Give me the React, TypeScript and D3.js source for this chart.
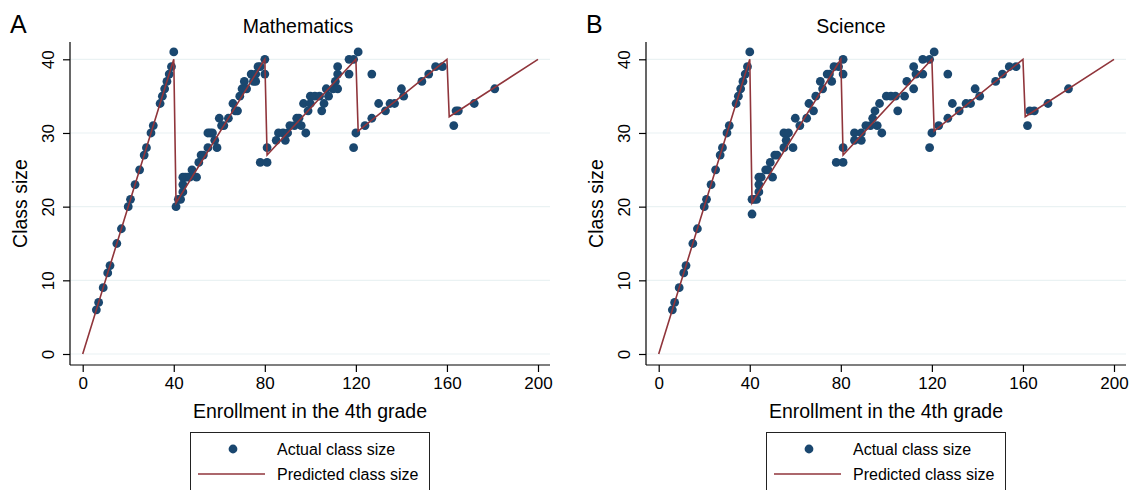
import { axisBottom, axisLeft, line, scaleLinear, select } from 'd3'
import React, { useEffect, useRef } from 'react'

// tick values
const xTicks = [0, 40, 80, 120, 160, 200]
const yTicks = [0, 10, 20, 30, 40]

// predicted class size (Maimonides-style rule, cap of 40)
const predictedEnrollment = [0, 40, 41, 80, 81, 120, 121, 160, 161, 200]
const predictedClassSize = [0, 40, 20.5, 40, 27, 40, 30.25, 40, 32.2, 40]

// Panel A - Mathematics
const mathEnrollment = [
  6, 7, 9, 11, 12, 15, 17, 20, 21, 23, 25, 27, 28, 30, 31, 34, 35, 36, 37, 38, 39, 40,
  41, 42, 43, 44, 44, 44, 45, 46, 47, 48, 50, 51, 52, 53, 55, 55, 56, 57, 58, 59, 60, 61, 62, 64,
  66, 67, 68, 69, 70, 71, 72, 74, 75, 76, 76, 77, 78, 80, 80, 78, 81, 81,
  85, 86, 88, 89, 90, 91, 93, 94, 95, 96, 97, 98, 99, 100, 100, 102, 104, 105, 106, 107, 108,
  110, 111, 112, 112, 112, 117, 117, 119, 121,
  119, 120, 124, 127, 127, 130, 133, 135, 137, 140, 141, 149, 152, 155, 158,
  163, 164, 165, 172, 181,
]
const mathClassSize = [
  6, 7, 9, 11, 12, 15, 17, 20, 21, 23, 25, 27, 28, 30, 31, 34, 35, 36, 37, 38, 39, 41,
  20, 21, 21, 22, 23, 24, 24, 24, 24, 25, 24, 26, 27, 27, 28, 30, 30, 30, 29, 28, 32, 31, 31, 32,
  34, 33, 33, 35, 36, 37, 36, 38, 37, 37, 38, 39, 39, 40, 38, 26, 26, 28,
  29, 30, 30, 29, 30, 31, 31, 32, 32, 31, 34, 30, 33, 35, 34, 35, 35, 33, 34, 36, 35,
  36, 37, 39, 38, 36, 40, 38, 40, 41,
  28, 30, 31, 38, 32, 34, 33, 34, 34, 36, 35, 37, 38, 39, 39,
  31, 33, 33, 34, 36,
]

// Panel B - Science
const scienceEnrollment = [
  6, 7, 9, 11, 12, 15, 17, 20, 21, 23, 25, 27, 28, 30, 31, 34, 35, 36, 37, 38, 39, 40,
  41, 41, 42, 43, 44, 44, 44, 45, 47, 48, 49, 50, 51, 52, 55, 55, 56, 57, 59, 60, 62, 65,
  66, 68, 69, 71, 72, 74, 75, 76, 77, 79, 81, 81, 81, 78, 81,
  86, 86, 89, 89, 91, 93, 94, 95, 96, 97, 98, 100, 102, 104, 105, 108, 109, 112, 112, 113,
  116, 116, 119, 121,
  119, 120, 123, 127, 127, 129, 132, 135, 137, 139, 141, 148, 151, 154, 157,
  162, 163, 165, 171, 180,
]
const scienceClassSize = [
  6, 7, 9, 11, 12, 15, 17, 20, 21, 23, 25, 27, 28, 30, 31, 34, 35, 36, 37, 38, 39, 41,
  19, 21, 21, 21, 22, 23, 24, 24, 25, 25, 26, 24, 27, 27, 28, 30, 29, 30, 28, 32, 31, 32,
  34, 33, 35, 37, 36, 38, 38, 37, 39, 39, 38, 40, 28, 26, 26,
  30, 29, 30, 29, 31, 31, 32, 33, 31, 34, 30, 35, 35, 35, 33, 35, 37, 39, 36, 38,
  40, 38, 40, 41,
  28, 30, 31, 38, 32, 34, 33, 34, 34, 36, 35, 37, 38, 39, 39,
  31, 33, 33, 34, 36,
]

const navy = '#1a476f'
const maroon = '#90353b'
const grid = '#eaf2f3'
const font = '"Liberation Sans", Arial, Helvetica, sans-serif'

function drawPanel(svg, offset, letter, title, titleX, enrollment, classSize) {
  const left = 70
  const right = 550
  const top = 42
  const bottom = 365

  const x = scaleLinear().domain([0, 200]).range([82.7 + offset, 538 + offset])
  const y = scaleLinear().domain([0, 40]).range([354, 59.3])

  const g = svg.append('g')

  // gridlines
  g.selectAll('.grid')
    .data(yTicks)
    .enter()
    .append('line')
    .attr('x1', left + offset + 0.5)
    .attr('x2', right + offset)
    .attr('y1', (d) => y(d))
    .attr('y2', (d) => y(d))
    .attr('stroke', grid)
    .attr('stroke-width', 1.2)

  // frame lines
  g.append('line')
    .attr('x1', left + offset).attr('x2', left + offset)
    .attr('y1', top).attr('y2', bottom)
    .attr('stroke', '#000').attr('stroke-width', 1.2)
  g.append('line')
    .attr('x1', left + offset).attr('x2', right + offset)
    .attr('y1', bottom).attr('y2', bottom)
    .attr('stroke', '#000').attr('stroke-width', 1.2)

  const xAxis = axisBottom(x).tickValues(xTicks).tickSize(7).tickSizeOuter(0)
  const xg = g.append('g').attr('transform', `translate(0,${bottom})`).call(xAxis)
  xg.select('.domain').remove()
  xg.selectAll('line').attr('stroke', '#000').attr('stroke-width', 1.2)
  xg.selectAll('text')
    .attr('y', 24)
    .attr('dy', 0)
    .attr('fill', '#000')
    .attr('font-size', 17)
    .attr('font-family', font)

  const yAxis = axisLeft(y).tickValues(yTicks).tickSize(7).tickSizeOuter(0)
  const yg = g.append('g').attr('transform', `translate(${left + offset},0)`).call(yAxis)
  yg.select('.domain').remove()
  yg.selectAll('line').attr('stroke', '#000').attr('stroke-width', 1.2)
  yg.selectAll('text')
    .attr('x', 0)
    .attr('y', -16.5)
    .attr('dy', 0)
    .attr('transform', 'rotate(-90)')
    .attr('text-anchor', 'middle')
    .attr('fill', '#000')
    .attr('font-size', 17)
    .attr('font-family', font)

  // actual class size
  g.selectAll('.dot')
    .data(enrollment.map((e, i) => [e, classSize[i]]))
    .enter()
    .append('circle')
    .attr('cx', (d) => x(d[0]))
    .attr('cy', (d) => y(d[1]))
    .attr('r', 4.4)
    .attr('fill', navy)

  // predicted class size
  const predLine = line()
    .x((d) => x(d[0]))
    .y((d) => y(d[1]))
  g.append('path')
    .datum(predictedEnrollment.map((e, i) => [e, predictedClassSize[i]]))
    .attr('d', predLine)
    .attr('fill', 'none')
    .attr('stroke', maroon)
    .attr('stroke-width', 1.6)

  // texts
  g.append('text')
    .attr('x', 10 + offset).attr('y', 33)
    .attr('font-size', 25).attr('font-family', font)
    .text(letter)
  g.append('text')
    .attr('x', titleX).attr('y', 33)
    .attr('text-anchor', 'middle')
    .attr('font-size', 19.5).attr('font-family', font)
    .text(title)
  g.append('text')
    .attr('x', (left + right) / 2 + offset).attr('y', 418)
    .attr('text-anchor', 'middle')
    .attr('font-size', 19.5).attr('font-family', font)
    .text('Enrollment in the 4th grade')
  g.append('text')
    .attr('transform', `translate(${27 + offset},${(top + bottom) / 2}) rotate(-90)`)
    .attr('text-anchor', 'middle')
    .attr('font-size', 19.5).attr('font-family', font)
    .text('Class size')

  // legend
  const lg = g.append('g').attr('transform', `translate(${190 + offset},432)`)
  lg.append('rect')
    .attr('x', 0.5).attr('y', 0.5)
    .attr('width', 239).attr('height', 70)
    .attr('fill', '#fff').attr('stroke', '#222').attr('stroke-width', 1)
  lg.append('circle').attr('cx', 43).attr('cy', 17).attr('r', 4.4).attr('fill', navy)
  lg.append('line')
    .attr('x1', 8).attr('x2', 75).attr('y1', 42).attr('y2', 42)
    .attr('stroke', maroon).attr('stroke-width', 1.6)
  lg.append('text')
    .attr('x', 87).attr('y', 22.8)
    .attr('font-size', 16).attr('font-family', font)
    .text('Actual class size')
  lg.append('text')
    .attr('x', 87).attr('y', 47.8)
    .attr('font-size', 16).attr('font-family', font)
    .text('Predicted class size')
}

function App() {
  const svgRef = useRef(null)

  useEffect(() => {
    const svg = select(svgRef.current)
    svg.selectAll('*').remove()

    svg.append('rect').attr('width', 1131).attr('height', 490).attr('fill', '#fff')

    drawPanel(svg, 0, 'A', 'Mathematics', 298, mathEnrollment, mathClassSize)
    drawPanel(svg, 576, 'B', 'Science', 851, scienceEnrollment, scienceClassSize)
  }, [])

  return (
    <svg
      ref={svgRef}
      width={1131}
      height={490}
      style={{ position: 'absolute', left: 0, top: 0 }}
    />
  )
}

export default App
